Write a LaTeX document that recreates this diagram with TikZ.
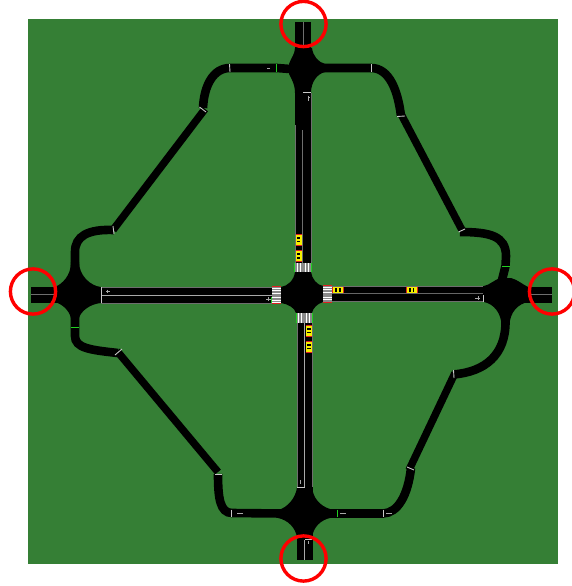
\documentclass[tikz,border=0pt]{standalone}
\definecolor{grass}{HTML}{357F35}
\definecolor{edgegrey}{HTML}{6E6E6E}
\definecolor{markgrey}{HTML}{A8A8A8}
\definecolor{tickgrey}{HTML}{C8C8C8}
\definecolor{stripegrey}{HTML}{8A8A8A}
\definecolor{sigred}{HTML}{E02020}
\definecolor{siggreen}{HTML}{20D020}
\definecolor{caryellow}{HTML}{F5F000}
\tikzset{
  road/.style={black,line width=8.6pt,line cap=butt},
  wideroad/.style={black,line width=16pt,line cap=butt},
  blob/.style={fill=black,draw=none},
  centre/.style={markgrey,line width=0.7pt},
  darkcentre/.style={edgegrey,line width=0.7pt},
  edge/.style={edgegrey,line width=0.5pt},
  tick/.style={tickgrey,line width=0.9pt},
  lanemark/.style={markgrey,line width=0.35pt},
  ring/.style={draw=red,line width=3.4pt},
  greenbar/.style={siggreen,line width=0.9pt},
  redbar/.style={sigred,line width=1.1pt},
  stripe/.style={white,line width=0.9pt},
  stripebg/.style={fill=stripegrey,draw=none},
}
% horizontal car: centre x,y
\newcommand{\carH}[2]{%
  \fill[caryellow] (#1-5.5,#2-3) rectangle (#1+5.5,#2+3);
  \fill[black] (#1-2.6,#2-1.6) rectangle (#1-0.9,#2+1.6);
  \fill[black] (#1+1.2,#2-1.6) rectangle (#1+2.9,#2+1.6);
  \fill[sigred] (#1+5,#2-3) rectangle (#1+6,#2+3);
  \fill[sigred] (#1-6,#2-3) rectangle (#1-5,#2+3);
}
\newcommand{\carV}[2]{%
  \fill[caryellow] (#1-3,#2-5.5) rectangle (#1+3,#2+5.5);
  \fill[black] (#1-1.6,#2-2.6) rectangle (#1+1.6,#2-0.9);
  \fill[black] (#1-1.6,#2+1.2) rectangle (#1+1.6,#2+2.9);
  \fill[sigred] (#1-3,#2-6) rectangle (#1+3,#2-5);
  \fill[sigred] (#1-3,#2+5) rectangle (#1+3,#2+6);
}
\begin{document}
\begin{tikzpicture}[x=1pt,y=-1pt]
\useasboundingbox (0,0) rectangle (571,586);
\fill[grass] (28,19) rectangle (558,564);

% ---- main roads
\draw[wideroad] (303,22) -- (303,50);
\draw[wideroad] (303,85) -- (303,268);
\draw[wideroad] (304.5,318) -- (304.5,492);
\draw[wideroad] (304.5,530) -- (304.5,560);
\draw[wideroad] (31,294.5) -- (60,294.5);
\draw[wideroad] (95,295) -- (276,295);
\draw[wideroad] (328,294) -- (488,294);
\draw[wideroad] (525,294.5) -- (552,294.5);

% ---- junction blobs
% top
\path[blob] (295,48) -- (312,48) .. controls (313,56) and (318,62) .. (325,64)
  -- (325,72) .. controls (317,74) and (311,82) .. (311,93) -- (295,93)
  .. controls (295,84) and (291,78) .. (289,74) -- (289,64) .. controls (291,58) and (295,54) .. (295,48) -- cycle;
% centre
\path[blob] (295,272) -- (311,272) .. controls (312,279) and (317,285) .. (323,286)
  -- (323,302) .. controls (317,304) and (313,308) .. (312,313) -- (296,313)
  .. controls (295,308) and (288,304) .. (281,303) -- (281,287) .. controls (288,286) and (294,280) .. (295,272) -- cycle;
% left
\path[blob] (71,262) -- (79,262) .. controls (79,275) and (90,286) .. (101,287)
  -- (101,303) .. controls (90,304) and (81,311) .. (79,318) -- (71,318)
  .. controls (69,310) and (62,304) .. (55,302) -- (55,287) .. controls (62,284) and (71,276) .. (71,262) -- cycle;
% right
\path[blob] (484,286) .. controls (490,285) and (495,279) .. (501,278) -- (511,278)
  .. controls (518,280) and (522,284) .. (528,287) -- (528,302)
  .. controls (518,304) and (510,312) .. (509.5,325) -- (501.5,325)
  .. controls (501,313) and (494,304) .. (484,302) -- cycle;
% bottom
\path[blob] (297,487) -- (312,487) .. controls (313,498) and (320,506) .. (330,509)
  -- (330,518) .. controls (321,520) and (313,527) .. (312,538) -- (297,538)
  .. controls (296,528) and (288,520) .. (278,518) -- (278,510)
  .. controls (287,508) and (296,498) .. (297,487) -- cycle;

% ---- outer ring roads
\draw[road] (290,69) -- (277,68) -- (230,68)
  .. controls (213,68) and (204,86) .. (203,108);
\draw[road,line width=7.5pt] (205,109) -- (113,230);
\draw[road] (114,230) .. controls (88,229) and (75,236) .. (75,252) -- (75,270);
\draw[road] (320,68) -- (371,68) .. controls (390,68) and (398,92) .. (401,116);
\draw[road,line width=7.5pt] (401,114) -- (462,230);
\draw[road] (460,232) .. controls (490,232) and (506,236) .. (506,256) -- (505.5,266) -- (502,280);
\draw[road] (75,315) -- (75,336) .. controls (75,348) and (90,350) .. (118,353);
\draw[road,line width=7.5pt] (117,351) -- (218,472);
\draw[road] (218,474) .. controls (218,498) and (220,513) .. (232,513) -- (282,513.5);
\draw[road] (325,513.5) -- (383,513.5) .. controls (398,513) and (408,495) .. (411,468);
\draw[road,line width=7.5pt] (409,470) -- (455,373);
\draw[road] (453,374.5) .. controls (485,372) and (505.5,355) .. (505.5,322);

% ---- centre and edge lines
\draw[darkcentre] (303.5,22) -- (303.5,45);
\draw[darkcentre] (302.8,130) -- (302.8,263);
\draw[edge] (295,125) -- (295,263);
\draw[edge] (311,93) -- (311,263);
\draw[centre] (304.7,323) -- (304.7,487);
\draw[edge] (297,323) -- (297,487);
\draw[edge] (312.3,323) -- (312.3,487);
\draw[centre] (304.7,540) -- (304.7,560);
\draw[darkcentre] (31,294.5) -- (55,294.5);
\draw[centre] (101,295) -- (272,295);
\draw[edge] (101,287) -- (272,287);
\draw[edge] (101,303) -- (272,303);
\draw[black!60!white,line width=0.7pt] (332,293.5) -- (483,293.5);
\draw[edge] (332,286.4) -- (483,286.4);
\draw[edge] (332,301.6) -- (483,301.6);
\draw[darkcentre] (528,294.5) -- (552,294.5);

% ---- stop lines and ticks
\draw[tick] (303,92) -- (311,92);
\draw[tick] (297,487) -- (305,487);
\draw[tick] (312,539) -- (305,539);
\draw[tick] (101,287) -- (101,303);
\draw[tick] (483,295) -- (483,302);
\draw[tick] (528,287) -- (528,295);
\draw[tick] (229.5,64) -- (230,72);
\draw[tick] (371.5,64) -- (371.5,72);
\draw[tick] (231.5,509.5) -- (231.5,517);
\draw[tick] (383,509.5) -- (383,517);
\draw[tick] (199.5,107) -- (206,112);
\draw[tick] (397,116.5) -- (405,116);
\draw[tick] (458.5,232) -- (465,229);
\draw[tick] (113,226) -- (114,234);
\draw[tick] (115,355) -- (122,349);
\draw[tick] (215,474) -- (222,474);
\draw[tick] (407,467) -- (414,470);
\draw[tick] (453.5,370) -- (454,378);

% ---- green signal bars
\draw[greenbar] (276.5,64) -- (276.5,71.5);
\draw[greenbar] (71,327) -- (79,327);
\draw[greenbar] (502,266.5) -- (509.5,266.5);
\draw[greenbar] (337,509.5) -- (337,517);

% ---- crossings
\path[stripebg] (295,263) rectangle (311,272);
\foreach \x in {297,300,305,308}{\draw[stripe] (\x,263) -- (\x,272);}
\path[stripebg] (296,313) rectangle (312.5,323);
\foreach \x in {298,301,306.5,309.5}{\draw[stripe] (\x,313) -- (\x,323);}
\path[stripebg] (272,286) rectangle (281,304);
\foreach \y in {288,290.5,293,297.5,300,302.5}{\draw[stripe] (272,\y) -- (281,\y);}
\path[stripebg] (323,285) rectangle (332,303);
\foreach \y in {287,289.5,292,297,299.5,302}{\draw[stripe] (323,\y) -- (332,\y);}
\draw[greenbar] (294.5,263) -- (294.5,272);
\draw[greenbar] (311.5,263) -- (311.5,272);
\draw[greenbar] (296,313) -- (296,323);
\draw[greenbar] (312.7,313) -- (312.7,323);
\draw[redbar] (272,286.3) -- (281,286.3);
\draw[redbar] (272,303.5) -- (281,303.5);
\draw[redbar] (323,285.3) -- (332,285.3);
\draw[redbar] (323,302.7) -- (332,302.7);
\draw[greenbar] (271.5,297) -- (271.5,303);

% ---- direction marks
\draw[lanemark] (266,299) -- (271,299) (268.5,297) -- (268.5,301);
\draw[lanemark] (106,291) -- (110,291) (107,289.5) -- (107,292.5);
\draw[lanemark] (475,298) -- (480,298) (478,296) -- (478,300);
\draw[lanemark] (308,96) -- (308,101) (308,97) -- (310,97);
\draw[lanemark] (300,480) -- (300,484);
\draw[lanemark] (308,541) -- (308,544);
\draw[lanemark] (270,68) -- (267,68);
\draw[lanemark] (243,513.5) -- (237,513.5);
\draw[lanemark] (346,513.5) -- (340,513.5);
\draw[lanemark] (392,513.5) -- (386,513.5);

% ---- cars
\carV{298.5}{239.5}
\carV{298.5}{256}
\carV{309}{330.5}
\carV{309}{346.5}
\carH{338}{290}
\carH{411.5}{290}

% ---- rings
\draw[ring] (303.5,24) circle (22.6);
\draw[ring] (33,291.5) circle (22.6);
\draw[ring] (552,291.5) circle (22.6);
\draw[ring] (303.5,558.5) circle (22.6);
\end{tikzpicture}
\end{document}
